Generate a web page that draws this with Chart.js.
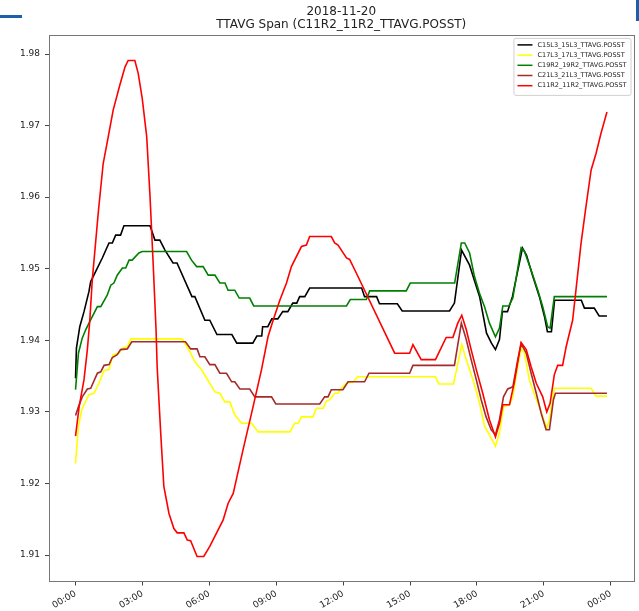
<!DOCTYPE html>
<html>
<head>
<meta charset="utf-8">
<title>TTAVG Span</title>
<script src="https://cdn.jsdelivr.net/npm/chart.js@4.4.1/dist/chart.umd.min.js"></script>
<style>
  html, body { margin: 0; padding: 0; background: #fff; }
  #wrap { position: relative; width: 639px; height: 611px; overflow: hidden; }
  #chart { position: absolute; left: 0; top: 0; }
  .bar-left { position: absolute; left: 0; top: 15px; width: 22px; height: 3px; background: #1f5fa8; }
  .bar-right { position: absolute; left: 636px; top: 0; width: 3px; height: 21px; background: #1f5fa8; }
</style>
</head>
<body>
<div id="wrap">
  <canvas id="chart" width="639" height="611"></canvas>
  <div class="bar-left"></div>
  <div class="bar-right"></div>
</div>
<script>
// hours since 00:00 on 2018-11-20, value
const c15l3 = [
  [0, 1.9347], [0.04, 1.9389], [0.19, 1.9419], [0.38, 1.9440], [0.60, 1.9468], [0.68, 1.9482],
  [0.90, 1.9496], [1.20, 1.9515], [1.50, 1.9536], [1.65, 1.9536], [1.80, 1.9547], [2.02, 1.9547],
  [2.17, 1.9560], [3.34, 1.9560], [3.56, 1.9540], [3.78, 1.9540], [4.01, 1.9526], [4.37, 1.9508],
  [4.55, 1.9508], [5.22, 1.9461], [5.35, 1.9461], [5.80, 1.9428], [6.02, 1.9428], [6.34, 1.9408],
  [7.01, 1.9408], [7.23, 1.9396], [7.95, 1.9396], [8.13, 1.9406], [8.35, 1.9406], [8.39, 1.9419],
  [8.62, 1.9419], [8.80, 1.9430], [9.07, 1.9430], [9.29, 1.9440], [9.52, 1.9440], [9.74, 1.9452],
  [9.92, 1.9452], [10.05, 1.9461], [10.28, 1.9461], [10.50, 1.9473], [12.83, 1.9473], [12.96, 1.9461],
  [13.50, 1.9461], [13.63, 1.9451], [14.43, 1.9451], [14.65, 1.9441], [16.77, 1.9441], [16.99, 1.9452],
  [17.31, 1.9526], [17.67, 1.9505], [17.90, 1.9482], [18.12, 1.9461], [18.43, 1.9410], [18.65, 1.9396],
  [18.83, 1.9387], [19.01, 1.9401], [19.14, 1.9440], [19.37, 1.9440], [19.59, 1.9461], [20.04, 1.9529],
  [20.22, 1.9519], [20.49, 1.9491], [20.80, 1.9461], [21.03, 1.9433], [21.16, 1.9412], [21.34, 1.9412],
  [21.48, 1.9456], [22.68, 1.9456], [22.82, 1.9445], [23.26, 1.9445], [23.48, 1.9434], [23.83, 1.9434]
];

const c17l3 = [
  [0, 1.9228], [0.13, 1.9280], [0.30, 1.9305], [0.60, 1.9324], [0.83, 1.9326], [1.05, 1.9340],
  [1.28, 1.9358], [1.50, 1.9359], [1.68, 1.9380], [1.95, 1.9382], [2.10, 1.9389], [2.32, 1.9391],
  [2.47, 1.9402], [4.78, 1.9402], [5.13, 1.9384], [5.35, 1.9370], [5.65, 1.9359], [5.88, 1.9347],
  [6.25, 1.9328], [6.47, 1.9326], [6.69, 1.9314], [6.92, 1.9314], [7.14, 1.9296], [7.44, 1.9284],
  [7.89, 1.9284], [8.19, 1.9272], [9.61, 1.9272], [9.83, 1.9284], [9.98, 1.9284], [10.13, 1.9293],
  [10.65, 1.9293], [10.80, 1.9305], [11.10, 1.9305], [11.25, 1.9315], [11.40, 1.9317], [11.62, 1.9326],
  [11.77, 1.9326], [11.92, 1.9333], [12.15, 1.9340], [12.45, 1.9342], [12.66, 1.9349], [16.14, 1.9349],
  [16.29, 1.9339], [16.95, 1.9339], [17.32, 1.9394], [17.52, 1.9373], [17.67, 1.9359], [17.89, 1.9338],
  [18.12, 1.9312], [18.34, 1.9280], [18.56, 1.9268], [18.83, 1.9252], [19.01, 1.9270], [19.19, 1.9307],
  [19.46, 1.9310], [19.61, 1.9321], [19.78, 1.9354], [19.98, 1.9389], [20.13, 1.9382], [20.35, 1.9345],
  [20.58, 1.9324], [20.80, 1.9307], [21.03, 1.9286], [21.13, 1.9277], [21.25, 1.9289], [21.47, 1.9333],
  [23.12, 1.9333], [23.34, 1.9322], [23.83, 1.9322]
];

const c19r2 = [
  [0, 1.9331], [0.13, 1.9382], [0.30, 1.9403], [0.46, 1.9415], [0.75, 1.9433], [0.98, 1.9447],
  [1.13, 1.9447], [1.42, 1.9463], [1.58, 1.9477], [1.72, 1.9480], [1.87, 1.9491], [2.10, 1.9501],
  [2.25, 1.9501], [2.40, 1.9512], [2.54, 1.9512], [2.84, 1.9522], [2.99, 1.9524], [4.98, 1.9524],
  [5.20, 1.9512], [5.43, 1.9503], [5.72, 1.9503], [5.95, 1.9491], [6.25, 1.9491], [6.47, 1.9480],
  [6.70, 1.9480], [6.84, 1.9470], [7.14, 1.9470], [7.34, 1.9459], [7.81, 1.9459], [7.99, 1.9448],
  [12.15, 1.9448], [12.32, 1.9457], [13.04, 1.9457], [13.19, 1.9469], [14.83, 1.9469], [15.01, 1.9480],
  [17.00, 1.9480], [17.30, 1.9536], [17.45, 1.9536], [17.67, 1.9522], [17.89, 1.9489], [18.11, 1.9466],
  [18.34, 1.9447], [18.56, 1.9424], [18.83, 1.9405], [19.01, 1.9417], [19.16, 1.9448], [19.43, 1.9448],
  [19.61, 1.9459], [19.98, 1.9529], [20.13, 1.9524], [20.43, 1.9498], [20.73, 1.9470], [20.95, 1.9447],
  [21.17, 1.9419], [21.28, 1.9417], [21.47, 1.9461], [23.83, 1.9461]
];

const c21l3 = [
  [0, 1.9295], [0.13, 1.9307], [0.30, 1.9321], [0.53, 1.9332], [0.68, 1.9333], [0.98, 1.9354],
  [1.13, 1.9356], [1.28, 1.9365], [1.50, 1.9366], [1.65, 1.9376], [1.87, 1.9380], [2.02, 1.9387],
  [2.32, 1.9388], [2.52, 1.9398], [4.93, 1.9398], [5.16, 1.9388], [5.45, 1.9388], [5.58, 1.9377],
  [5.80, 1.9377], [6.02, 1.9366], [6.25, 1.9366], [6.47, 1.9354], [6.77, 1.9354], [7.00, 1.9342],
  [7.14, 1.9342], [7.37, 1.9332], [7.81, 1.9332], [8.04, 1.9321], [8.79, 1.9321], [8.98, 1.9311],
  [10.95, 1.9311], [11.17, 1.9321], [11.32, 1.9321], [11.47, 1.9331], [11.99, 1.9331], [12.22, 1.9342],
  [12.96, 1.9342], [13.16, 1.9354], [14.98, 1.9354], [15.13, 1.9365], [16.99, 1.9365], [17.30, 1.9424],
  [17.52, 1.9401], [17.74, 1.9373], [17.97, 1.9345], [18.19, 1.9317], [18.41, 1.9293], [18.64, 1.9275],
  [18.83, 1.9268], [19.01, 1.9289], [19.19, 1.9321], [19.38, 1.9332], [19.61, 1.9335], [19.83, 1.9373],
  [19.98, 1.9395], [20.21, 1.9382], [20.43, 1.9354], [20.66, 1.9326], [20.88, 1.9298], [21.10, 1.9275],
  [21.25, 1.9275], [21.43, 1.9317], [21.52, 1.9326], [23.83, 1.9326]
];

const c11r2 = [
  [0, 1.9266], [0.16, 1.9307], [0.38, 1.9345], [0.53, 1.9387], [0.64, 1.9428], [0.75, 1.9484],
  [1.03, 1.9582], [1.24, 1.9647], [1.47, 1.9685], [1.69, 1.9722], [1.99, 1.9757], [2.22, 1.9782],
  [2.36, 1.9791], [2.66, 1.9791], [2.81, 1.9773], [2.99, 1.9738], [3.19, 1.9685], [3.34, 1.9601],
  [3.48, 1.9508], [3.61, 1.9415], [3.66, 1.9363], [3.82, 1.9270], [3.96, 1.9196], [4.19, 1.9158],
  [4.41, 1.9137], [4.56, 1.9131], [4.86, 1.9131], [5.01, 1.9121], [5.16, 1.9120], [5.45, 1.9098],
  [5.75, 1.9098], [6.02, 1.9112], [6.62, 1.9149], [6.84, 1.9172], [7.07, 1.9186], [7.51, 1.9247],
  [7.96, 1.9307], [8.34, 1.9359], [8.63, 1.9405], [8.86, 1.9428], [9.16, 1.9456], [9.46, 1.9480],
  [9.68, 1.9503], [10.13, 1.9531], [10.35, 1.9533], [10.50, 1.9545], [11.47, 1.9545], [11.62, 1.9536],
  [11.77, 1.9533], [12.15, 1.9515], [12.29, 1.9513], [12.59, 1.9494], [14.31, 1.9382], [14.98, 1.9382],
  [15.13, 1.9394], [15.50, 1.9373], [16.14, 1.9373], [16.62, 1.9404], [16.92, 1.9404], [17.14, 1.9424],
  [17.32, 1.9435], [17.52, 1.9415], [17.74, 1.9387], [17.97, 1.9359], [18.26, 1.9326], [18.56, 1.9289],
  [18.83, 1.9265], [19.01, 1.9284], [19.16, 1.9310], [19.46, 1.9310], [19.68, 1.9342], [19.98, 1.9397],
  [20.21, 1.9387], [20.43, 1.9363], [20.66, 1.9340], [20.95, 1.9321], [21.13, 1.9300], [21.28, 1.9312],
  [21.47, 1.9352], [21.62, 1.9365], [21.84, 1.9365], [22.00, 1.9391], [22.29, 1.9428], [22.44, 1.9470],
  [22.67, 1.9536], [22.89, 1.9587], [23.12, 1.9638], [23.34, 1.9661], [23.56, 1.9689], [23.83, 1.9719]
];

const seriesNames = [
  'C15L3_15L3_TTAVG.POSST',
  'C17L3_17L3_TTAVG.POSST',
  'C19R2_19R2_TTAVG.POSST',
  'C21L3_21L3_TTAVG.POSST',
  'C11R2_11R2_TTAVG.POSST'
];
const seriesColors = ['#000000', '#ffff00', '#008000', '#a52a2a', '#ff0000'];
const seriesData = [c15l3, c17l3, c19r2, c21l3, c11r2];

const tickHours = [0, 3, 6, 9, 12, 15, 18, 21, 24];
const tickValues = [1.91, 1.92, 1.93, 1.94, 1.95, 1.96, 1.97, 1.98];

Chart.defaults.font.family = 'DejaVu Sans';
Chart.defaults.color = '#222';

// top and right spines, plus the whole box
const frame = {
  id: 'frame',
  afterDatasetsDraw(chart) {
    const { ctx, chartArea: a } = chart;
    ctx.save();
    ctx.strokeStyle = '#777';
    ctx.lineWidth = 1;
    ctx.strokeRect(Math.round(a.left) + 0.5, Math.round(a.top) + 0.5,
      Math.round(a.right - a.left), Math.round(a.bottom - a.top));
    ctx.restore();
  }
};

// matplotlib style legend in the upper right corner
const boxLegend = {
  id: 'boxLegend',
  afterDraw(chart) {
    const { ctx, chartArea: a } = chart;
    ctx.save();
    ctx.font = '6.5px "DejaVu Sans"';
    const textW = Math.max(...seriesNames.map(n => ctx.measureText(n).width));
    const rowH = 10.2;
    const w = 4 + 15 + 5 + textW + 4;
    const h = seriesNames.length * rowH + 6;
    const x = a.right - 3 - w;
    const y = a.top + 2.5;
    ctx.fillStyle = 'rgba(255,255,255,0.85)';
    ctx.strokeStyle = '#d0d0d0';
    ctx.lineWidth = 1;
    ctx.beginPath();
    ctx.roundRect(x + 0.5, y + 0.5, w, h, 2);
    ctx.fill();
    ctx.stroke();
    ctx.textBaseline = 'middle';
    seriesNames.forEach((name, i) => {
      const cy = y + 6 + rowH * i + 1;
      ctx.strokeStyle = seriesColors[i];
      ctx.lineWidth = 1.5;
      ctx.beginPath();
      ctx.moveTo(x + 4, cy);
      ctx.lineTo(x + 19, cy);
      ctx.stroke();
      ctx.fillStyle = '#222';
      ctx.fillText(name, x + 24, cy);
    });
    ctx.restore();
  }
};

new Chart(document.getElementById('chart'), {
  type: 'line',
  data: {
    datasets: seriesData.map((pts, i) => ({
      label: seriesNames[i],
      data: pts.map(p => ({ x: p[0], y: p[1] })),
      borderColor: seriesColors[i],
      borderWidth: 1.6,
      pointRadius: 0,
      tension: 0,
      fill: false,
      order: seriesData.length - i
    }))
  },
  options: {
    responsive: false,
    animation: false,
    devicePixelRatio: 1,
    layout: { padding: { top: 0, right: 5.5, bottom: 0, left: 0 } },
    plugins: {
      legend: { display: false },
      tooltip: { enabled: false },
      title: {
        display: true,
        fullSize: false,
        text: ['2018-11-20', 'TTAVG Span (C11R2_11R2_TTAVG.POSST)'],
        color: '#222',
        font: { size: 12, weight: 'normal', lineHeight: 1.1 },
        padding: { top: 5, bottom: 4 }
      }
    },
    scales: {
      x: {
        type: 'linear',
        min: -1.19,
        max: 25.02,
        afterBuildTicks: s => { s.ticks = tickHours.map(v => ({ value: v })); },
        afterFit: s => { s.height = 29.5; },
        border: { display: false },
        grid: { drawOnChartArea: false, tickLength: 4, color: '#444' },
        ticks: {
          autoSkip: false,
          minRotation: 30,
          maxRotation: 30,
          padding: 3,
          font: { size: 9 },
          color: '#222',
          callback: v => String(v % 24).padStart(2, '0') + ':00'
        }
      },
      y: {
        min: 1.9063,
        max: 1.9826,
        afterBuildTicks: s => { s.ticks = tickValues.map(v => ({ value: v })); },
        afterFit: s => { s.width = 49; },
        border: { display: false },
        grid: { drawOnChartArea: false, tickLength: 4, color: '#444' },
        ticks: {
          padding: 5,
          font: { size: 9 },
          color: '#222',
          callback: v => v.toFixed(2)
        }
      }
    }
  },
  plugins: [frame, boxLegend]
});
</script>
</body>
</html>
